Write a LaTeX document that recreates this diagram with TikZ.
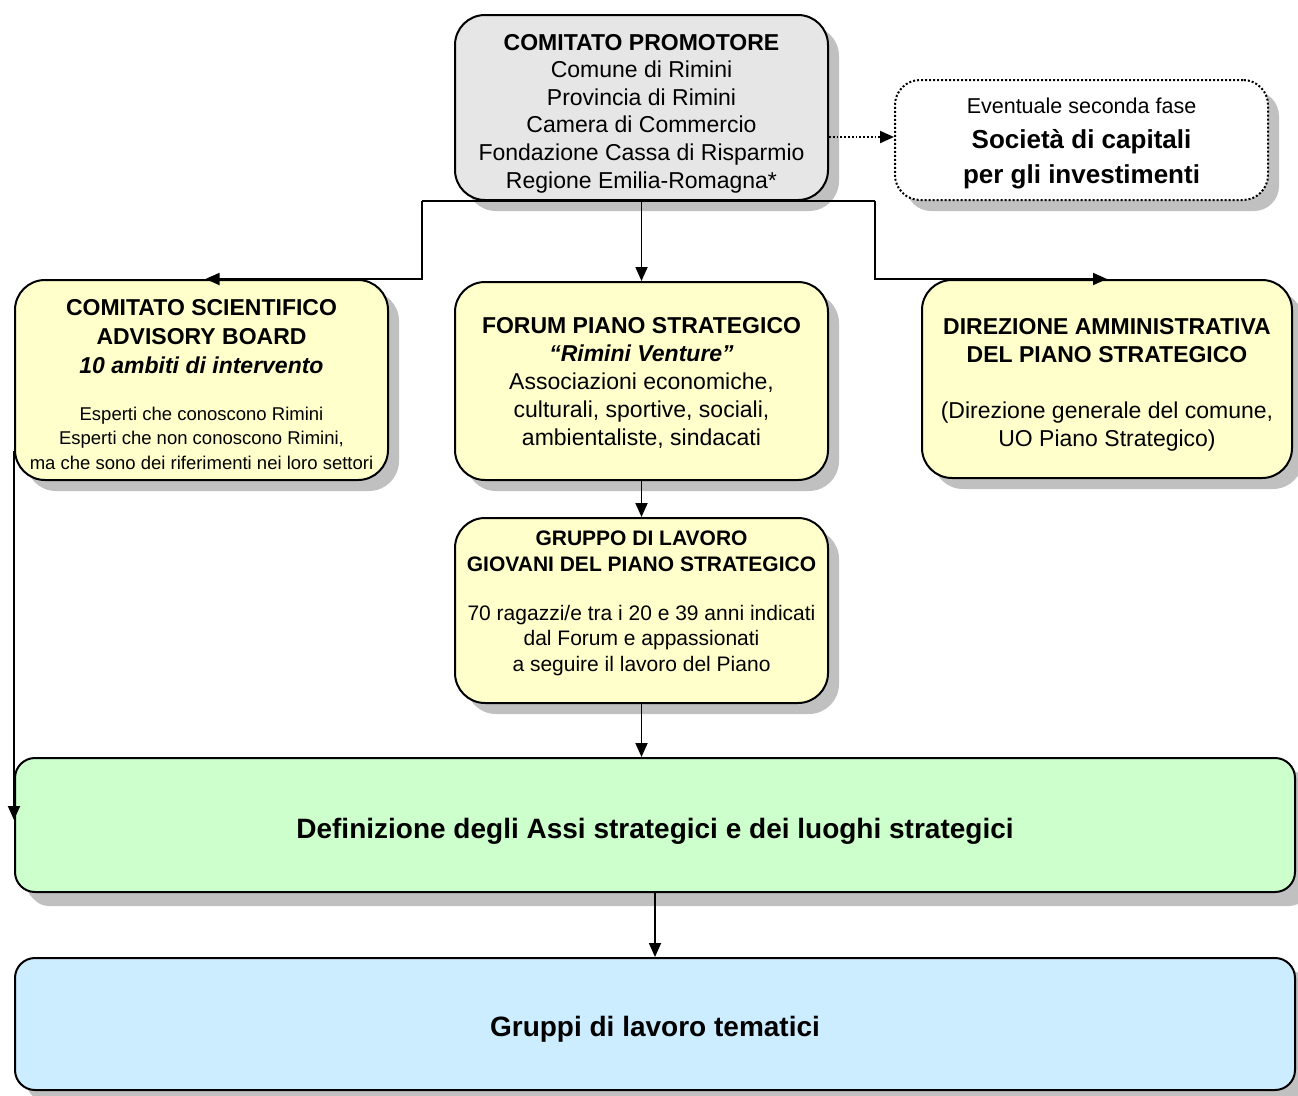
\documentclass[tikz,border=0pt]{standalone}
\usepackage{fontspec}
\setmainfont{Liberation Sans}
\usetikzlibrary{arrows.meta,shadows}
\definecolor{boxgray}{RGB}{230,230,230}
\definecolor{boxyellow}{RGB}{255,255,204}
\definecolor{boxgreen}{RGB}{204,255,204}
\definecolor{boxblue}{RGB}{204,236,255}
\definecolor{shadowgray}{RGB}{192,192,192}
\begin{document}
\begin{tikzpicture}[x=1pt,y=-1pt,
  box/.style={draw=black, line width=2pt, rounded corners=30pt, inner sep=0pt,
    drop shadow={shadow xshift=11pt, shadow yshift=-11pt, fill=shadowgray, opacity=1}},
  widebox/.style={box, rounded corners=20pt,
    drop shadow={shadow xshift=14pt, shadow yshift=-14pt, fill=shadowgray, opacity=1}},
  txt/.style={align=center, inner sep=0pt},
  conn/.style={line width=1.8pt},
  arr/.style={conn, -{Triangle[length=14pt,width=12pt]}},
  darr/.style={arr, dotted, line width=2pt},
]
\useasboundingbox (0,0) rectangle (1298,1095);

% top box
\node[box, fill=boxgray, minimum width=373pt, minimum height=185pt] (prom) at (641.5,107.5) {};
\node[txt, font=\fontsize{23}{27.6}\selectfont] (promt) at ([yshift=-6pt]prom.center)
  {{\bfseries COMITATO PROMOTORE}\\ Comune di Rimini\\ Provincia di Rimini\\ Camera di Commercio\\
   Fondazione Cassa di Risparmio\\ Regione Emilia-Romagna*};

% dotted box
\node[box, fill=white, dotted, line width=2pt, rounded corners=25pt, minimum width=373pt, minimum height=120pt] (seconda) at (1081.5,140) {};
\node[txt, font=\fontsize{26}{35}\selectfont] (secondat) at ([yshift=-3pt]seconda.center)
  {{\fontsize{21.5}{35}\selectfont Eventuale seconda fase}\\ {\bfseries Società di capitali}\\ {\bfseries per gli investimenti}};

% left box
\node[box, fill=boxyellow, minimum width=373pt, minimum height=200pt] (scient) at (201.5,380) {};
\node[txt, font=\fontsize{23}{29}\selectfont] (scientt) at ([yshift=-5pt]scient.center)
  {{\bfseries COMITATO SCIENTIFICO}\\ {\bfseries ADVISORY BOARD}\\ {\bfseries\itshape 10 ambiti di intervento}\\[18pt]
   {\fontsize{18.5}{25}\selectfont Esperti che conoscono Rimini}\\[-5pt]
   {\fontsize{18.5}{25}\selectfont Esperti che non conoscono Rimini,}\\[-4pt]
   {\fontsize{18.5}{25}\selectfont ma che sono dei riferimenti nei loro settori}};

% forum box
\node[box, fill=boxyellow, minimum width=373pt, minimum height=198pt] (forum) at (641.5,381) {};
\node[txt, font=\fontsize{23}{28}\selectfont] (forumt) at ([yshift=-2pt]forum.center)
  {{\bfseries FORUM PIANO STRATEGICO}\\ {\bfseries\itshape “Rimini Venture”}\\ Associazioni economiche,\\
   culturali, sportive, sociali,\\ ambientaliste, sindacati};

% direzione box
\node[box, fill=boxyellow, minimum width=370pt, minimum height=198pt] (dir) at (1107,379) {};
\node[txt, font=\fontsize{23}{27.5}\selectfont] (dirt) at ([yshift=-6pt]dir.center)
  {{\bfseries DIREZIONE AMMINISTRATIVA}\\ {\bfseries DEL PIANO STRATEGICO}\\[29pt]
   (Direzione generale del comune,\\ UO Piano Strategico)};

% gruppo box
\node[box, fill=boxyellow, minimum width=373pt, minimum height=185pt] (gruppo) at (641.5,610.5) {};
\node[txt, font=\fontsize{21}{26}\selectfont] (gruppot) at ([yshift=7pt]gruppo.center)
  {{\bfseries GRUPPO DI LAVORO}\\ {\bfseries GIOVANI DEL PIANO STRATEGICO}\\[23pt]
   70 ragazzi/e tra i 20 e 39 anni indicati\\[-1pt] dal Forum e appassionati\\ a seguire il lavoro del Piano};

% wide boxes
\node[widebox, fill=boxgreen, minimum width=1280pt, minimum height=134pt] (def) at (655,825) {};
\node[txt, font=\bfseries\fontsize{28}{34}\selectfont] (deft) at ([yshift=-6pt]def.center)
  {Definizione degli Assi strategici e dei luoghi strategici};
\node[widebox, fill=boxblue, minimum width=1280pt, minimum height=132pt] (gruppi) at (655,1024) {};
\node[txt, font=\bfseries\fontsize{28}{34}\selectfont] (gruppit) at ([yshift=-5pt]gruppi.center)
  {Gruppi di lavoro tematici};

% connectors
\draw[conn] ([xshift=-219.5pt]prom.south) -- ([xshift=233.5pt]prom.south);
\draw[arr] ([xshift=-219.5pt]prom.south) |- ([xshift=4pt]scient.north);
\draw[arr] ([xshift=233.5pt]prom.south) |- (dir.north);
\draw[arr] (prom.south) -- (forum.north);
\draw[darr] ([yshift=3pt]seconda.west -| prom.east) -- ([yshift=3pt]seconda.west);
\draw[arr] (forum.south) -- (gruppo.north);
\draw[arr] (gruppo.south) -- (gruppo.south |- def.north);
\draw[arr] (def.south) -- (gruppi.north);
\draw[arr] ([yshift=30pt]scient.south west) -- ([yshift=5pt]def.west);
\end{tikzpicture}
\end{document}
